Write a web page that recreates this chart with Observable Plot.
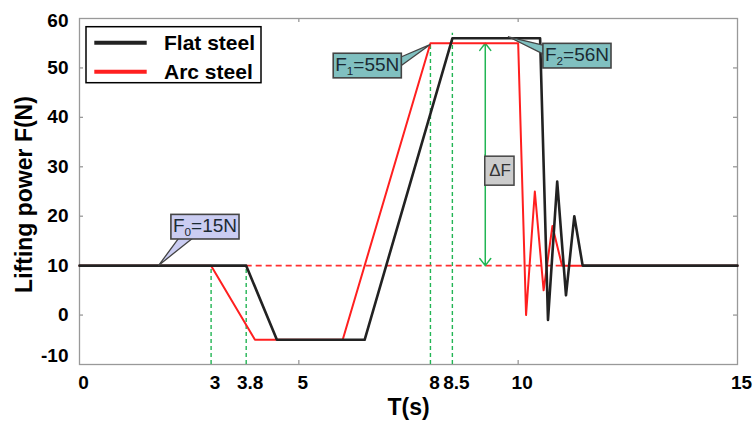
<!DOCTYPE html>
<html>
<head>
<meta charset="utf-8">
<script src="https://cdn.jsdelivr.net/npm/d3@7"></script>
<script src="https://cdn.jsdelivr.net/npm/@observablehq/plot@0.6"></script>
<style>
  html, body { margin: 0; padding: 0; background: #fff; }
  #chart svg { display: block; }
</style>
</head>
<body>
<div id="chart"></div>
<script>
// ---------- data ----------
const seriesNames = ["Flat steel", "Arc steel"];

const flatT = [0, 3.8, 4.5, 6.5, 8.5, 10.5, 10.68, 10.89, 11.09, 11.28, 11.47, 15];
const flatF = [10, 10, -5, -5, 56, 56, -1, 27, 4, 20, 10, 10];

const arcT = [0, 3, 4, 6, 8, 10, 10.18, 10.38, 10.58, 10.78, 11, 15];
const arcF = [10, 10, -5, -5, 55, 55, 0, 25, 5, 18, 10, 10];

const xTickValues = [0, 3, 3.8, 5, 8, 8.5, 10, 15];
const yTickValues = [0, 10, 20, 30, 40, 50];
const yTickTop = [60];
const yTickBottom = [-10];
const xInnerTicks = [5, 10];
const yInnerTicks = [0, 10, 20, 30, 40, 50];

const markerT = [3, 3.8, 8, 8.5];
const markerTop = [10, 10, 55, 57];

const refF = [10];
const refStart = 3.8, refEnd = 11;

const deltaT = 9.25, deltaLow = 10, deltaHigh = 55, deltaLabelF = 29.2;
const deltaText = ["ΔF"];

const calloutSub = ["0", "1", "2"];
const calloutValue = [15, 55, 56];
const calloutBoxT = [2.86, 6.56, 11.34];
const calloutBoxF = [18, 50.6, 52.6];
const calloutTipT = [1.82, 8.0, 9.79];
const calloutTipF = [10, 54.6, 56.2];

const xTitle = ["T(s)"];
const yTitle = ["Lifting power F(N)"];

// ---------- styles ----------
const BLACK = "#222222", RED = "#ff1f1f", GREEN = "#22b554", FRAME = "#999999";
const calloutFills = ["#cbcdf2", "#80c0c0", "#80c0c0"];
const FONT = "'Liberation Sans', Arial, Helvetica, sans-serif";

// ---------- tables ----------
const flat = flatT.map((t, i) => ({t, f: flatF[i]}));
const arc = arcT.map((t, i) => ({t, f: arcF[i]}));
const markers = markerT.map((t, i) => ({t, top: markerTop[i]}));
const deltaArrows = [
  {t: deltaT, from: (deltaLow + deltaHigh) / 2, to: deltaHigh},
  {t: deltaT, from: (deltaLow + deltaHigh) / 2, to: deltaLow}
];
const callouts = calloutSub.map((s, i) => ({
  label: `F${s}=${calloutValue[i]}N`, t: calloutBoxT[i], f: calloutBoxF[i],
  tipT: calloutTipT[i], tipF: calloutTipF[i]
}));

const W = 753, H = 421;
const xDomain = [0, 15], yDomain = [-10, 60];
const mL = 79, mR = 16, mT = 18, mB = 57;
const tkX = 4 * (xDomain[1] - xDomain[0]) / (W - mL - mR);
const tkY = 4 * (yDomain[1] - yDomain[0]) / (H - mT - mB);

const axisText = {tickSize: 0, tickPadding: 11, fontSize: 19, fontWeight: "bold", fill: "#000", label: null, tickFormat: d => String(d)};

const plot = Plot.plot({
  width: W, height: H,
  marginLeft: mL, marginRight: mR, marginTop: mT, marginBottom: mB,
  x: {domain: xDomain},
  y: {domain: yDomain},
  style: {fontFamily: FONT, fontSize: "19px", background: "#fff", color: "#000", overflow: "visible"},
  marks: [
    Plot.frame({stroke: FRAME, strokeWidth: 1.3}),
    Plot.ruleX(xInnerTicks, {x: d => d, y1: yDomain[0], y2: yDomain[0] + tkY, stroke: FRAME, strokeWidth: 1.3}),
    Plot.ruleX(xInnerTicks, {x: d => d, y1: yDomain[1], y2: yDomain[1] - tkY, stroke: FRAME, strokeWidth: 1.3}),
    Plot.ruleY(yInnerTicks, {y: d => d, x1: xDomain[0], x2: xDomain[0] + tkX, stroke: FRAME, strokeWidth: 1.3}),
    Plot.ruleY(yInnerTicks, {y: d => d, x1: xDomain[1], x2: xDomain[1] - tkX, stroke: FRAME, strokeWidth: 1.3}),
    Plot.ruleX(markers, {x: "t", y1: yDomain[0], y2: "top", stroke: GREEN, strokeWidth: 1.4, strokeDasharray: "4,3"}),
    Plot.ruleY(refF, {y: d => d, x1: refStart, x2: refEnd, stroke: "#ff3030", strokeWidth: 1.6, strokeDasharray: "6,4"}),
    Plot.arrow(deltaArrows, {x1: "t", x2: "t", y1: "from", y2: "to", stroke: GREEN, strokeWidth: 1.5, headLength: 9, headAngle: 75}),
    Plot.line(arc, {x: "t", y: "f", stroke: RED, strokeWidth: 2}),
    Plot.line(flat, {x: "t", y: "f", stroke: BLACK, strokeWidth: 2.6}),
    Plot.text(callouts, {x: "t", y: "f", text: "label", fontSize: 19, fill: "#1b2a33", textAnchor: "middle", lineAnchor: "middle"}),
    Plot.text(deltaText, {x: deltaT, y: deltaLabelF, text: d => d, textAnchor: "start", lineAnchor: "middle", dx: 4, fontSize: 17, fill: "#333"}),
    Plot.axisX(xTickValues, {...axisText, dx: 4}),
    Plot.axisY(yTickValues, {...axisText}),
    Plot.axisY(yTickTop, {...axisText, dy: 2}),
    Plot.axisY(yTickBottom, {...axisText, dy: -9}),
    Plot.text(xTitle, {text: d => d, frameAnchor: "bottom", textAnchor: "middle", lineAnchor: "middle", dy: 43.5, fontSize: 23, fontWeight: "bold", fill: "#000"}),
    Plot.text(yTitle, {text: d => d, frameAnchor: "left", textAnchor: "middle", lineAnchor: "middle", dx: -54.7, dy: 3, rotate: -90, fontSize: 23, fontWeight: "bold", fill: "#000"})
  ]
});

document.getElementById("chart").appendChild(plot);

// ---------- post-processing: callout boxes, legend ----------
const svg = d3.select(plot);
const xs = plot.scale("x"), ys = plot.scale("y");
const svgRect = plot.getBoundingClientRect();

function boxOf(node) {
  const r = node.getBoundingClientRect();
  return {left: r.left - svgRect.left, top: r.top - svgRect.top, right: r.right - svgRect.left, bottom: r.bottom - svgRect.top};
}

const calloutNodes = [];
let deltaNode = null;
svg.selectAll("text").each(function() {
  const s = this.textContent;
  if (/^F\d=/.test(s)) calloutNodes.push(this);
  if (s === deltaText[0]) deltaNode = this;
});

// subscripts
calloutNodes.forEach(node => {
  const el = d3.select(node);
  const m = /^F(\d)(=.*)$/.exec(el.text());
  if (!m) return;
  el.text(null);
  el.append("tspan").text("F");
  el.append("tspan").attr("font-size", "0.62em").attr("dy", 4).text(m[1]);
  el.append("tspan").attr("dy", -4).text(m[2]);
});

// boxes and pointers, inserted just below the text group
if (calloutNodes.length) {
  const textGroup = calloutNodes[0].parentNode;
  const bg = d3.select(textGroup.parentNode).insert("g", () => textGroup).attr("aria-label", "callout-boxes");
  calloutNodes.forEach((node, i) => {
    const b = boxOf(node);
    const padX = 2, padY = 0.8;
    const L = b.left - padX, R = b.right + padX, T = b.top - padY, B = b.bottom + padY;
    const c = callouts[i];
    const tx = xs.apply(c.tipT), ty = ys.apply(c.tipF);
    let base;
    if (ty > B) base = [[L + 8, B - 1], [L + 22, B - 1]];
    else if (tx > R) base = [[R - 1, T + 4], [R - 1, T + 13]];
    else base = [[L + 1, T + 2], [L + 1, T + 11]];
    bg.append("path")
      .attr("d", `M${base[0][0]},${base[0][1]}L${tx},${ty}L${base[1][0]},${base[1][1]}Z`)
      .attr("fill", calloutFills[i]).attr("stroke", "#444").attr("stroke-width", 1.3).attr("stroke-linejoin", "round");
    bg.append("rect")
      .attr("x", L).attr("y", T).attr("width", R - L).attr("height", B - T)
      .attr("fill", calloutFills[i]).attr("stroke", "#444").attr("stroke-width", 1.6);
  });
}

// delta label box
if (deltaNode) {
  const g = deltaNode.parentNode;
  const b = boxOf(deltaNode);
  d3.select(g.parentNode).insert("g", () => g).attr("aria-label", "delta-box")
    .append("rect")
    .attr("x", xs.apply(deltaT)).attr("y", b.top - 5)
    .attr("width", b.right + 3 - xs.apply(deltaT)).attr("height", b.bottom - b.top + 10)
    .attr("fill", "#cccccc").attr("stroke", "#444").attr("stroke-width", 1.5);
}

// legend
const fx = xs.range[0], fy = Math.min(...ys.range);
const lg = svg.append("g").attr("aria-label", "legend").attr("font-family", FONT).attr("text-anchor", "start");
lg.append("rect").attr("x", fx + 7).attr("y", fy + 8.7).attr("width", 175).attr("height", 56)
  .attr("fill", "#fff").attr("stroke", "#000").attr("stroke-width", 1.5);
[BLACK, RED].forEach((col, i) => {
  const cy = fy + 24.7 + i * 29;
  lg.append("line").attr("x1", fx + 15.3).attr("x2", fx + 67.7).attr("y1", cy).attr("y2", cy)
    .attr("stroke", col).attr("stroke-width", 4);
  lg.append("text").attr("x", fx + 85).attr("y", cy + 7.5).attr("text-anchor", "start")
    .attr("font-size", 21).attr("font-weight", "bold").attr("fill", "#000")
    .text(seriesNames[i]);
});
</script>
</body>
</html>
